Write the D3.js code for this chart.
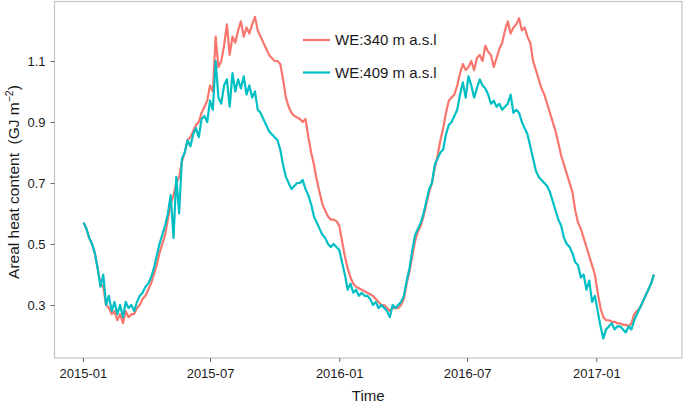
<!DOCTYPE html>
<html><head><meta charset="utf-8">
<script src="https://cdn.jsdelivr.net/npm/d3@7"></script>
<style>
body{margin:0;background:#fff;}
svg{display:block;font-family:"Liberation Sans",Arial,sans-serif;}
</style></head>
<body>
<svg id="chart" width="685" height="403"></svg>
<script>
// ---- data ----
const seriesNames = ["WE:340 m a.s.l", "WE:409 m a.s.l"];
const seriesColors = ["#F8766D", "#00BFC4"];
const startDate = "2015-01-02";
const stepDays = 4;
const xTickLabels = ["2015-01", "2015-07", "2016-01", "2016-07", "2017-01"];
const yTickValues = [0.3, 0.5, 0.7, 0.9, 1.1];

const we340 = [
0.57,0.55,0.52,0.50,0.47,0.42,0.37,0.36,0.30,0.29,
0.27,0.28,0.25,0.27,0.24,0.28,0.26,0.27,0.27,0.29,
0.30,0.32,0.33,0.35,0.37,0.40,0.43,0.47,0.50,0.53,
0.58,0.63,0.66,0.70,0.72,0.77,0.80,0.84,0.85,0.87,
0.89,0.90,0.93,0.95,0.97,1.02,1.00,1.18,1.08,1.10,
1.15,1.22,1.12,1.18,1.16,1.20,1.23,1.18,1.21,1.19,
1.22,1.245,1.20,1.18,1.16,1.14,1.12,1.11,1.10,1.10,
1.09,1.04,0.98,0.95,0.93,0.92,0.915,0.91,0.90,0.91,
0.85,0.80,0.76,0.71,0.67,0.63,0.61,0.59,0.58,0.58,
0.575,0.56,0.51,0.46,0.42,0.39,0.37,0.36,0.355,0.35,
0.345,0.34,0.335,0.33,0.32,0.31,0.30,0.30,0.29,0.28,
0.29,0.29,0.29,0.30,0.32,0.37,0.41,0.46,0.51,0.54,
0.56,0.59,0.63,0.67,0.70,0.75,0.79,0.84,0.88,0.93,
0.97,0.98,0.99,1.02,1.06,1.09,1.07,1.08,1.10,1.07,
1.11,1.12,1.10,1.15,1.13,1.12,1.08,1.11,1.14,1.16,
1.20,1.23,1.19,1.21,1.22,1.24,1.20,1.21,1.18,1.16,
1.10,1.07,1.04,1.01,0.99,0.96,0.93,0.90,0.87,0.83,
0.79,0.76,0.73,0.70,0.67,0.61,0.57,0.55,0.52,0.49,
0.46,0.43,0.40,0.34,0.29,0.26,0.25,0.25,0.245,0.245,
0.24,0.24,0.235,0.235,0.23,0.24,0.27,0.28,0.29,0.31,
0.33,0.35,0.37,0.40
];

const we409 = [
0.57,0.55,0.52,0.50,0.47,0.42,0.36,0.40,0.30,0.33,
0.28,0.31,0.27,0.30,0.26,0.31,0.29,0.30,0.28,0.31,
0.33,0.34,0.36,0.37,0.39,0.42,0.46,0.50,0.53,0.56,
0.60,0.66,0.52,0.72,0.60,0.78,0.80,0.84,0.82,0.86,
0.88,0.85,0.91,0.92,0.90,0.97,0.94,1.10,0.98,0.96,
1.02,1.04,0.95,1.06,1.00,1.04,1.01,1.05,0.99,1.02,
0.98,1.00,0.94,0.93,0.91,0.89,0.87,0.86,0.85,0.84,
0.81,0.76,0.72,0.70,0.68,0.69,0.70,0.70,0.71,0.68,
0.66,0.63,0.59,0.57,0.55,0.53,0.52,0.50,0.49,0.50,
0.49,0.48,0.44,0.40,0.35,0.37,0.34,0.35,0.33,0.34,
0.33,0.33,0.32,0.30,0.31,0.29,0.30,0.29,0.28,0.26,
0.30,0.29,0.30,0.31,0.33,0.38,0.42,0.48,0.53,0.55,
0.57,0.60,0.64,0.68,0.70,0.76,0.78,0.80,0.81,0.86,
0.89,0.90,0.92,0.94,0.99,1.03,0.98,1.05,1.02,0.98,
1.01,1.04,1.02,1.01,0.99,0.96,0.97,0.95,0.96,0.94,
0.95,0.96,0.99,0.93,0.94,0.93,0.90,0.88,0.86,0.82,
0.78,0.74,0.72,0.71,0.70,0.69,0.67,0.64,0.61,0.58,
0.56,0.52,0.50,0.49,0.47,0.44,0.43,0.39,0.40,0.35,
0.38,0.31,0.33,0.28,0.23,0.19,0.22,0.23,0.24,0.22,
0.23,0.23,0.22,0.21,0.23,0.22,0.25,0.27,0.29,0.31,
0.33,0.35,0.37,0.40
];

// ---- layout ----
const svg = d3.select("#chart");
const panel = {left: 54.5, right: 682, top: 1.5, bottom: 358};
const parse = d3.utcParse("%Y-%m-%d");
const parseTick = d3.utcParse("%Y-%m");
const t0 = parse(startDate);
const dateAt = i => d3.utcDay.offset(t0, i * stepDays);

const x = d3.scaleUtc()
  .domain([parseTick("2015-01"), parseTick("2017-01")])
  .range([82.9, 596.3]);
const y = d3.scaleLinear().domain([0.3, 1.1]).range([305, 61]);

// panel background/border
svg.append("rect")
  .attr("x", panel.left).attr("y", panel.top)
  .attr("width", panel.right - panel.left).attr("height", panel.bottom - panel.top)
  .attr("fill", "#fff").attr("stroke", "#c4c4c4").attr("stroke-width", 1.2);

// axes
const xAxis = d3.axisBottom(x)
  .tickValues(xTickLabels.map(parseTick))
  .tickFormat(d3.utcFormat("%Y-%m"))
  .tickSize(4).tickPadding(7);
const gx = svg.append("g").attr("transform", `translate(0,${panel.bottom})`).call(xAxis);
gx.select(".domain").remove();
gx.selectAll(".tick line").attr("stroke", "#444").attr("stroke-width", 0.8);
gx.selectAll(".tick text").attr("font-size", 13).attr("fill", "#1a1a1a")
  .attr("font-family", "Liberation Sans, Arial, sans-serif");

const yAxis = d3.axisLeft(y)
  .tickValues(yTickValues)
  .tickFormat(d3.format(".1f"))
  .tickSize(4).tickPadding(5);
const gy = svg.append("g").attr("transform", `translate(${panel.left},0)`).call(yAxis);
gy.select(".domain").remove();
gy.selectAll(".tick line").attr("stroke", "#444").attr("stroke-width", 0.8);
gy.selectAll(".tick text").attr("font-size", 13).attr("fill", "#1a1a1a")
  .attr("font-family", "Liberation Sans, Arial, sans-serif");

// lines
const line = d3.line()
  .x((d, i) => x(dateAt(i)))
  .y(d => y(d));
svg.append("clipPath").attr("id", "clip").append("rect")
  .attr("x", panel.left).attr("y", panel.top)
  .attr("width", panel.right - panel.left).attr("height", panel.bottom - panel.top);
const gl = svg.append("g").attr("clip-path", "url(#clip)");
[we340, we409].forEach((vals, k) => {
  gl.append("path").datum(vals)
    .attr("d", line)
    .attr("fill", "none")
    .attr("stroke", seriesColors[k])
    .attr("stroke-width", 2.2)
    .attr("stroke-linejoin", "round");
});

// legend
const leg = svg.append("g");
seriesNames.forEach((name, k) => {
  const ly = 40 + k * 32.5;
  leg.append("line").attr("x1", 303).attr("x2", 330).attr("y1", ly).attr("y2", ly)
    .attr("stroke", seriesColors[k]).attr("stroke-width", 2.2);
  leg.append("text").attr("x", 335).attr("y", ly).attr("dy", "0.35em")
    .attr("font-size", 15).attr("fill", "#1a1a1a").text(name);
});

// axis titles
svg.append("text").attr("x", (panel.left + panel.right) / 2).attr("y", 402)
  .attr("text-anchor", "middle").attr("font-size", 15).attr("fill", "#1a1a1a")
  .attr("dy", "-0.05em").text("Time");

const yt = svg.append("text")
  .attr("transform", "translate(19,182) rotate(-90)")
  .attr("text-anchor", "middle").attr("font-size", 15.5).attr("fill", "#1a1a1a");
yt.append("tspan").text("Areal heat content\u00a0\u00a0(GJ m");
yt.append("tspan").attr("font-size", 10.5).attr("dy", "-0.55em").text("\u22122");
yt.append("tspan").attr("dy", "0.38em").text(")");
</script>
</body></html>
